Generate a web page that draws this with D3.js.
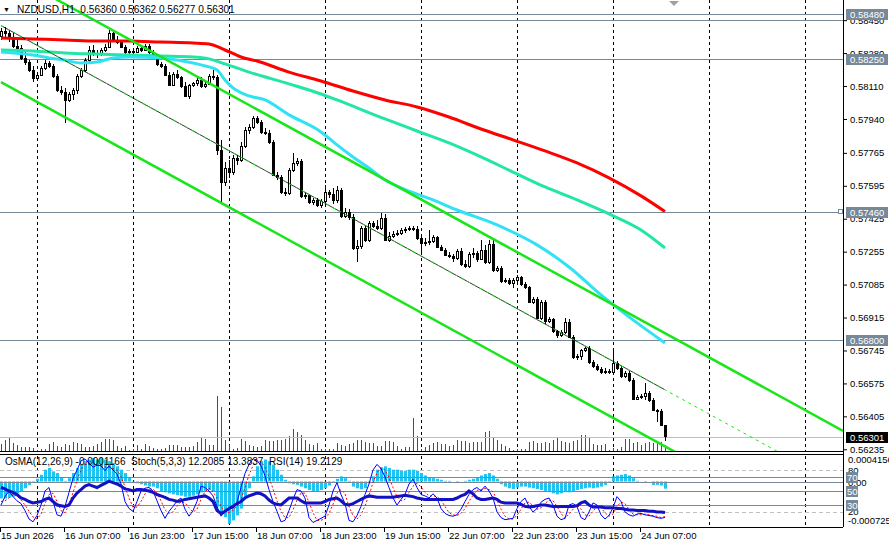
<!DOCTYPE html>
<html>
<head>
<meta charset="utf-8">
<script src="https://cdn.jsdelivr.net/npm/d3@7"></script>
<style>
  html, body { margin: 0; padding: 0; background: #fff; }
  svg { display: block; font-family: "Liberation Sans", Arial, sans-serif; }
</style>
</head>
<body>
<svg id="chart" width="889" height="548"></svg>
<script>
// prices are in points (1 point = 0.00001)
const symbol = "NZDUSD";
const period = "H1";

const opens = [
  58368,58394,58384,58358,58317,58306,58255,58234,58193,58152,
  58167,58203,58229,58213,58162,58090,58079,58038,58069,58090,
  58162,58193,58244,58296,58275,58281,58296,58311,58384,58348,
  58337,58311,58286,58291,58286,58306,58296,58317,58286,58265,
  58224,58213,58167,58115,58172,58157,58110,58059,58115,58126,
  58141,58110,58121,58162,58157,57780,57615,57687,57666,57739,
  57728,57801,57883,57899,57945,57924,57873,57868,57821,57651,
  57641,57563,57558,57677,57713,57723,57543,57548,57512,57522,
  57496,57517,57563,57553,57522,57574,57439,57460,57434,57274,
  57285,57377,57316,57403,57388,57377,57429,57316,57336,57347,
  57352,57367,57372,57377,57372,57326,57300,57305,57310,57331,
  57279,57264,57238,57233,57223,57259,57192,57181,57243,57249,
  57218,57264,57202,57295,57161,57171,57104,57109,57094,57109,
  57125,57089,57073,56996,57011,56913,56996,56898,56908,56846,
  56825,56841,56893,56815,56712,56717,56748,56758,56686,56665,
  56650,56634,56640,56634,56681,56655,56614,56629,56593,56495,
  56505,56511,56526,56490,56438,56433,56360
];
const highs = [
  58410,58415,58399,58389,58348,58322,58296,58244,58213,58182,
  58213,58244,58239,58224,58172,58110,58100,58079,58100,58172,
  58203,58255,58317,58322,58296,58306,58327,58399,58399,58368,
  58348,58322,58301,58301,58317,58322,58327,58327,58296,58270,
  58234,58224,58182,58182,58193,58162,58131,58121,58131,58152,
  58157,58131,58172,58193,58167,57832,57718,57728,57754,57754,
  57821,57899,57914,57955,57955,57935,57894,57883,57832,57666,
  57651,57584,57687,57765,57739,57734,57558,57553,57532,57532,
  57527,57599,57574,57584,57594,57584,57481,57476,57450,57316,
  57388,57393,57414,57414,57419,57455,57450,57357,57362,57367,
  57377,57383,57388,57388,57388,57341,57326,57367,57341,57336,
  57290,57274,57254,57243,57269,57274,57212,57254,57274,57259,
  57316,57290,57316,57316,57181,57181,57120,57120,57120,57135,
  57130,57099,57078,57021,57021,57006,57006,56918,56913,56851,
  56851,56913,56908,56825,56727,56753,56769,56769,56696,56676,
  56660,56655,56650,56748,56691,56665,56640,56640,56604,56516,
  56521,56578,56536,56500,56444,56444,56362
];
const lows = [
  58348,58358,58337,58306,58286,58244,58219,58182,58131,58141,
  58162,58193,58203,58152,58079,58064,57919,58028,58038,58069,
  58152,58182,58234,58265,58255,58265,58286,58306,58337,58327,
  58306,58275,58275,58275,58281,58286,58291,58275,58255,58213,
  58203,58162,58110,58110,58146,58100,58053,58043,58105,58110,
  58100,58100,58115,58141,57754,57507,57594,57636,57651,57703,
  57718,57790,57863,57888,57914,57863,57857,57811,57646,57625,
  57553,57543,57548,57666,57697,57532,57527,57501,57496,57486,
  57481,57507,57532,57501,57507,57429,57429,57419,57264,57202,
  57269,57305,57305,57377,57367,57367,57310,57305,57326,57336,
  57341,57352,57362,57362,57316,57238,57285,57290,57300,57274,
  57259,57233,57223,57202,57212,57181,57171,57171,57223,57202,
  57212,57192,57192,57150,57150,57094,57094,57083,57068,57099,
  57078,57063,56991,56985,56908,56903,56882,56887,56836,56810,
  56815,56831,56810,56702,56696,56696,56738,56676,56655,56640,
  56624,56624,56624,56619,56645,56604,56604,56583,56490,56490,
  56495,56490,56480,56433,56376,56356,56277
];
const closes = [
  58394,58384,58358,58317,58306,58255,58234,58193,58152,58167,
  58203,58229,58213,58162,58090,58079,58038,58069,58090,58162,
  58193,58244,58296,58275,58281,58296,58311,58384,58348,58337,
  58311,58286,58291,58286,58306,58296,58317,58286,58265,58224,
  58213,58167,58115,58172,58157,58110,58059,58115,58126,58141,
  58110,58121,58162,58157,57780,57615,57687,57666,57739,57728,
  57801,57883,57899,57945,57924,57873,57868,57821,57651,57641,
  57563,57558,57677,57713,57723,57543,57548,57512,57522,57496,
  57517,57563,57553,57522,57574,57439,57460,57434,57274,57285,
  57377,57316,57403,57388,57377,57429,57316,57336,57347,57352,
  57367,57372,57377,57372,57326,57300,57305,57310,57331,57279,
  57264,57238,57233,57223,57259,57192,57181,57243,57249,57218,
  57264,57202,57295,57161,57171,57104,57109,57094,57109,57125,
  57089,57073,56996,57011,56913,56996,56898,56908,56846,56825,
  56841,56893,56815,56712,56717,56748,56758,56686,56665,56650,
  56634,56640,56634,56681,56655,56614,56629,56593,56495,56505,
  56511,56526,56490,56438,56433,56361,56301
];
// tick volumes
const volumes = [
  200,300,350,225,175,125,125,125,100,50,
  75,75,200,250,150,125,200,175,250,225,
  200,125,125,150,200,250,325,325,300,150,
  100,150,50,75,175,75,200,150,100,75,
  75,100,175,175,175,125,125,125,150,250,
  375,325,175,175,1400,1125,300,175,75,100,
  325,275,175,150,125,150,300,275,275,300,
  300,325,400,575,500,425,300,200,175,225,
  75,75,75,75,225,175,150,200,225,300,
  300,250,225,225,150,150,275,275,250,150,
  75,125,125,850,400,75,125,175,225,250,
  200,200,150,175,300,275,275,225,250,250,
  250,500,525,375,300,200,150,100,50,75,
  75,75,250,275,225,225,250,225,300,375,
  275,250,225,275,300,425,425,350,200,175,
  175,200,50,100,75,125,325,325,225,250,
  175,225,250,225,250,250,175
];

// moving averages: [bar, price]
const maSlow = [[0,58358],[8,58353],[16,58348],[24,58342],[32,58342],[40,58337],[48,58332],[52,58327],[56,58296],[60,58260],[64,58239],[72,58182],[80,58136],[88,58084],[96,58038],[104,58002],[112,57950],[120,57888],[128,57832],[136,57775],[144,57713],[152,57636],[160,57543],[166,57462]];
const maMid = [[0,58296],[8,58291],[16,58281],[24,58275],[32,58270],[40,58265],[48,58260],[52,58250],[56,58224],[62,58182],[72,58121],[80,58069],[84,58038],[96,57940],[104,57878],[112,57816],[120,57744],[128,57666],[136,57589],[144,57522],[152,57450],[160,57367],[166,57274]];
const maFast = [[0,58286],[8,58270],[12,58255],[16,58244],[20,58229],[24,58234],[28,58255],[32,58260],[40,58255],[44,58244],[50,58219],[54,58193],[56,58141],[58,58100],[62,58059],[66,58038],[72,57961],[80,57873],[84,57806],[88,57744],[92,57687],[96,57625],[100,57584],[108,57522],[114,57470],[124,57393],[134,57290],[142,57176],[150,57032],[158,56903],[166,56784]];

// regression channel: anchor bars, middle prices, deviation
const channelBars = [0, 166];
const channelMid = [58422, 56542];
const channelDev = 292;

// horizontal lines
const levelLines = [58480, 58450, 58250, 57460, 56800];
const levelBoxes = [58480, 58250, 57460, 56800];
const bidPrice = 56301;

const priceTicks = [58450, 58280, 58110, 57940, 57765, 57595, 57425, 57255, 57085, 56915, 56745, 56575, 56405, 56235];

const dayStartBars = [9, 33, 57, 81, 105, 129, 153, 177, 201];
const timeTickBars = [0, 16, 32, 48, 64, 80, 96, 112, 128, 144, 160];
const timeTickLabels = ["15 Jun 2026", "16 Jun 07:00", "16 Jun 23:00", "17 Jun 15:00", "18 Jun 07:00", "18 Jun 23:00", "19 Jun 15:00", "22 Jun 07:00", "22 Jun 23:00", "23 Jun 15:00", "24 Jun 07:00"];

// indicator window (OsMA in millionths)
const osma = [
  -276,-276,-264,-248,-193,-154,-110,-55,-11,44,
  110,193,220,165,138,66,11,55,138,220,
  276,331,358,386,358,386,358,331,303,248,
  193,138,66,11,-28,-44,-66,-83,-83,-110,
  -154,-176,-193,-209,-220,-231,-248,-248,-231,-209,
  -176,-154,-138,-165,-413,-523,-579,-689,-634,-551,
  -441,-276,-110,83,248,331,358,331,276,193,
  110,28,-28,-44,-55,-83,-110,-138,-154,-154,
  -138,-110,-66,-11,44,83,55,11,-83,-110,
  -127,-110,-28,83,193,231,248,220,193,193,
  176,176,193,193,176,138,99,66,55,44,
  28,11,11,0,-11,0,11,28,44,66,
  99,121,138,99,44,-44,-83,-110,-121,-99,
  -83,-83,-99,-110,-121,-138,-154,-165,-193,-209,
  -193,-154,-176,-165,-138,-121,-110,-99,-110,-99,
  -83,-55,-11,83,99,110,121,99,55,11,
  0,-11,0,-55,-55,-66,-116.6
].map((v) => v / 1e6);
const stochMain = [
  30,42,50,42,36,32,22,10,6,15,
  30,50,55,35,16,14,28,48,68,80,
  93,96,90,84,87,86,79,86,80,74,
  60,35,25,21,35,50,54,55,50,36,
  22,11,21,28,36,40,24,14,22,35,
  57,55,50,43,28,14,20,24,26,34,
  55,75,88,96,94,86,72,52,35,21,
  6,8,22,38,52,50,40,12,5,8,
  11,14,30,50,62,45,32,8,6,15,
  28,45,60,80,88,82,70,55,40,30,
  38,45,60,67,55,45,43,40,46,40,
  25,18,15,14,16,24,35,45,52,55,
  50,57,50,40,20,12,9,10,11,25,
  35,40,28,20,25,34,38,40,30,14,
  9,11,30,32,28,12,9,20,33,30,
  16,10,15,26,42,35,20,16,14,17,
  18,16,15,14,12,11,12.2085
];
const stochSignal = [
  35,36,40,45,43,37,30,21,13,10,
  17,32,45,47,35,22,19,30,48,65,
  80,90,93,90,87,86,84,84,82,80,
  71,56,40,27,27,35,46,53,53,47,
  36,23,18,20,28,35,33,26,20,24,
  38,49,54,49,40,28,21,19,23,28,
  38,55,73,86,93,92,84,70,53,36,
  21,12,12,23,37,47,47,34,19,8,
  8,11,18,31,47,52,46,28,15,10,
  16,29,44,62,76,83,80,69,55,42,
  36,38,48,57,61,56,48,43,43,42,
  37,28,19,16,15,18,25,35,44,51,
  52,54,52,49,37,24,14,10,10,15,
  24,33,34,29,24,26,32,37,36,28,
  18,11,17,24,30,24,16,14,21,28,
  26,19,14,17,28,34,32,24,17,16,
  16,17,16,15,14,12,13.3837
];
const rsi = [
  55,53,50,48,45,40,38,35,33,34,
  35,38,40,35,30,29,28,30,40,47,
  52,57,59,57,55,58,61,64,62,60,
  57,53,52,50,52,52,51,50,48,45,
  43,41,38,37,35,36,38,39,40,41,
  42,43,40,35,22,18,21,25,28,32,
  35,40,43,45,47,46,43,37,33,31,
  30,35,40,40,40,36,33,33,33,33,
  33,35,38,39,40,36,31,30,32,35,
  38,41,43,42,41,41,41,41,41,42,
  43,44,43,42,40,39,38,38,38,38,
  38,38,38,38,40,43,45,50,46,40,
  38,38,39,40,38,34,33,33,33,33,
  31,28,27,28,29,30,30,29,28,28,
  28,28,28,28,29,33,35,30,27,27,
  27,26,26,26,25,25,24,23,23,22,
  22,22,21,21,20,20,19.2129
];
const osmaRange = [-0.000725, 0.0004156];
const stochLevels = [80, 20];
const subLines = [70, 50, 30];

// layout
const plotRight = 843;
const mainBottom = 452;
const subTop = 455;
const subBottom = 527;
const lastBar = opens.length - 1;
const fmt = (v) => (v / 1e5).toFixed(5);
const axisFont = 9.5;

const svg = d3.select("#chart");

const x = d3.scaleLinear().domain([0, 166]).range([1, 665]);
const y = d3.scaleLinear().domain([56221, 58554]).range([mainBottom, 0]);
const yVol = d3.scaleLinear().domain([0, 1400]).range([mainBottom, mainBottom - 56]);
const ySub = d3.scaleLinear().domain([0, 100]).range([subBottom - 1, subTop + 1]);
const yOsma = d3.scaleLinear().domain(osmaRange).range([subBottom - 1, subTop + 1]);
const rightBar = x.invert(plotRight);

svg.append("defs").call((defs) => {
  defs.append("clipPath").attr("id", "clip-main")
    .append("rect").attr("x", 0).attr("y", 0).attr("width", plotRight).attr("height", mainBottom);
  defs.append("clipPath").attr("id", "clip-sub")
    .append("rect").attr("x", 0).attr("y", subTop).attr("width", plotRight).attr("height", subBottom - subTop);
});

const main = svg.append("g").attr("clip-path", "url(#clip-main)");
const sub = svg.append("g").attr("clip-path", "url(#clip-sub)");

// day separators
[main, sub].forEach((g) => {
  g.selectAll("line.day")
    .data(dayStartBars)
    .enter()
    .append("line")
    .attr("class", "day")
    .attr("x1", (d) => Math.round(x(d)) + 0.5)
    .attr("x2", (d) => Math.round(x(d)) + 0.5)
    .attr("y1", 0)
    .attr("y2", subBottom)
    .attr("stroke", "#000")
    .attr("stroke-dasharray", "3,3");
});

// volumes
main.selectAll("line.vol")
  .data(volumes)
  .enter()
  .append("line")
  .attr("x1", (d, i) => x(i) + 0.5)
  .attr("x2", (d, i) => x(i) + 0.5)
  .attr("y1", mainBottom)
  .attr("y2", (d) => yVol(d))
  .attr("stroke", "#0b7d0b");

// horizontal level lines
main.selectAll("line.level")
  .data(levelLines)
  .enter()
  .append("line")
  .attr("x1", 0)
  .attr("x2", plotRight)
  .attr("y1", (d) => Math.round(y(d)) + 0.5)
  .attr("y2", (d) => Math.round(y(d)) + 0.5)
  .attr("stroke", "#778899");

main.append("line")
  .attr("x1", 0)
  .attr("x2", plotRight)
  .attr("y1", Math.round(y(bidPrice)) + 0.5)
  .attr("y2", Math.round(y(bidPrice)) + 0.5)
  .attr("stroke", "#c0c0c0");

// candles
const bars = opens.map((o, i) => ({ i, o, h: highs[i], l: lows[i], c: closes[i] }));
const candle = main.selectAll("g.candle").data(bars).enter().append("g").attr("shape-rendering", "crispEdges");
candle.append("line")
  .attr("x1", (d) => x(d.i) + 0.5)
  .attr("x2", (d) => x(d.i) + 0.5)
  .attr("y1", (d) => y(d.h))
  .attr("y2", (d) => y(d.l))
  .attr("stroke", "#000");
candle.append("rect")
  .attr("x", (d) => x(d.i) - 0.5)
  .attr("y", (d) => Math.round(y(Math.max(d.o, d.c))) + 0.5)
  .attr("width", 2)
  .attr("height", (d) => Math.max(0.5, Math.round(Math.abs(y(d.o) - y(d.c)))))
  .attr("fill", (d) => (d.c >= d.o ? "#fff" : "#000"))
  .attr("stroke", "#000");

// moving averages
const maLine = d3.line().x((d) => x(d[0])).y((d) => y(d[1])).curve(d3.curveMonotoneX);
main.append("path").datum(maSlow).attr("d", maLine).attr("fill", "none").attr("stroke", "#ff0000").attr("stroke-width", 3);
main.append("path").datum(maMid).attr("d", maLine).attr("fill", "none").attr("stroke", "#22e6a6").attr("stroke-width", 3);
main.append("path").datum(maFast).attr("d", maLine).attr("fill", "none").attr("stroke", "#30e2f4").attr("stroke-width", 3);

// regression channel
const midAt = (b) => channelMid[0] + (channelMid[1] - channelMid[0]) * (b - channelBars[0]) / (channelBars[1] - channelBars[0]);
const straight = d3.line().x((d) => x(d[0])).y((d) => y(d[1]));
[channelDev, -channelDev].forEach((dev) => {
  main.append("path")
    .datum([[channelBars[0], midAt(channelBars[0]) + dev], [rightBar, midAt(rightBar) + dev]])
    .attr("d", straight)
    .attr("fill", "none")
    .attr("stroke", "#19e619")
    .attr("stroke-width", 2.5);
});
main.append("path")
  .datum([[channelBars[0], midAt(channelBars[0])], [channelBars[1], midAt(channelBars[1])]])
  .attr("d", straight)
  .attr("fill", "none")
  .attr("stroke", "#000")
  .attr("stroke-width", 0.8);
main.append("path")
  .datum([[channelBars[0], midAt(channelBars[0])], [rightBar, midAt(rightBar)]])
  .attr("d", straight)
  .attr("fill", "none")
  .attr("stroke", "#19e619")
  .attr("stroke-width", 1)
  .attr("stroke-dasharray", "3,4");

// indicator window
sub.selectAll("line.stochlvl")
  .data(stochLevels)
  .enter()
  .append("line")
  .attr("x1", 0)
  .attr("x2", plotRight)
  .attr("y1", (d) => Math.round(ySub(d)) + 0.5)
  .attr("y2", (d) => Math.round(ySub(d)) + 0.5)
  .attr("stroke", "#c0c0c0")
  .attr("stroke-dasharray", "4,3");

sub.selectAll("rect.osma")
  .data(osma)
  .enter()
  .append("rect")
  .attr("x", (d, i) => x(i) - 1)
  .attr("y", (d) => Math.min(yOsma(d), yOsma(0)))
  .attr("width", 3)
  .attr("height", (d) => Math.abs(yOsma(d) - yOsma(0)))
  .attr("fill", "#1ec4f2");

sub.selectAll("line.subline")
  .data(subLines.map((v) => ySub(v)).concat([yOsma(0)]))
  .enter()
  .append("line")
  .attr("x1", 0)
  .attr("x2", plotRight)
  .attr("y1", (d) => Math.round(d) + 0.5)
  .attr("y2", (d) => Math.round(d) + 0.5)
  .attr("stroke", "#778899");

const subLine = (yS) => d3.line().x((d, i) => x(i)).y((d) => yS(d));
sub.append("path").datum(stochSignal).attr("d", subLine(ySub)).attr("fill", "none").attr("stroke", "#ff0000").attr("stroke-dasharray", "2,2");
sub.append("path").datum(stochMain).attr("d", subLine(ySub)).attr("fill", "none").attr("stroke", "#0000ff");
sub.append("path").datum(rsi).attr("d", subLine(ySub)).attr("fill", "none").attr("stroke", "#1212c4").attr("stroke-width", 3);

// frames
const frame = svg.append("g").attr("stroke", "#000").attr("shape-rendering", "crispEdges");
frame.append("line").attr("x1", plotRight + 0.5).attr("x2", plotRight + 0.5).attr("y1", 0).attr("y2", subBottom);
frame.append("line").attr("x1", 0).attr("x2", plotRight).attr("y1", mainBottom - 0.5).attr("y2", mainBottom - 0.5);
frame.append("line").attr("x1", 0).attr("x2", plotRight).attr("y1", subTop - 0.5).attr("y2", subTop - 0.5);
frame.append("line").attr("x1", 0).attr("x2", plotRight).attr("y1", subBottom + 0.5).attr("y2", subBottom + 0.5);

// price axis
const priceAxis = svg.append("g")
  .attr("transform", `translate(${plotRight},0)`)
  .call(d3.axisRight(y).tickValues(priceTicks).tickFormat(fmt).tickSize(4).tickPadding(3));
priceAxis.select(".domain").remove();
priceAxis.selectAll("text").attr("font-size", axisFont).attr("fill", "#000").attr("font-family", "Liberation Sans, Arial, sans-serif");

const priceBox = (price, fill) => {
  const yy = Math.round(y(price));
  svg.append("rect").attr("x", plotRight + 3).attr("y", yy - 5).attr("width", 42).attr("height", 11).attr("fill", fill);
  svg.append("text")
    .attr("x", plotRight + 7)
    .attr("y", yy + 4)
    .attr("font-size", axisFont)
    .attr("fill", "#fff")
    .text(fmt(price));
};
levelBoxes.forEach((p) => priceBox(p, "#778899"));
priceBox(bidPrice, "#000");

// selected marker on level line
svg.append("rect")
  .attr("x", plotRight - 4.5)
  .attr("y", Math.round(y(57460)) - 2.5)
  .attr("width", 4)
  .attr("height", 4)
  .attr("fill", "#fff")
  .attr("stroke", "#778899");

// indicator axis labels
const subAxisLabels = [
  { y: yOsma(osmaRange[1]) + 7, t: osmaRange[1].toFixed(7) },
  { y: ySub(80) + 4, t: "80" },
  { y: yOsma(0) + 4, t: "0.00" },
  { y: ySub(20) + 3, t: "20" },
  { y: yOsma(osmaRange[0]) - 2, t: osmaRange[0].toFixed(6) },
];
svg.selectAll("text.sublabel")
  .data(subAxisLabels)
  .enter()
  .append("text")
  .attr("x", plotRight + 5)
  .attr("y", (d) => d.y)
  .attr("font-size", axisFont)
  .attr("fill", "#000")
  .text((d) => d.t);
subLines.forEach((v) => {
  const yy = Math.round(ySub(v));
  svg.append("rect").attr("x", plotRight + 3).attr("y", yy - 5).attr("width", 12).attr("height", 11).attr("fill", "#778899");
  svg.append("text").attr("x", plotRight + 4).attr("y", yy + 4).attr("font-size", axisFont).attr("fill", "#fff").text(v);
});

// time axis
const timeAxis = svg.append("g");
timeAxis.selectAll("line")
  .data(timeTickBars)
  .enter()
  .append("line")
  .attr("x1", (d) => x(d) - 0.5)
  .attr("x2", (d) => x(d) - 0.5)
  .attr("y1", subBottom + 1)
  .attr("y2", subBottom + 5)
  .attr("stroke", "#000");
timeAxis.selectAll("text")
  .data(timeTickBars)
  .enter()
  .append("text")
  .attr("x", (d) => x(d))
  .attr("y", 539)
  .attr("font-size", 9.6)
  .attr("fill", "#000")
  .text((d, i) => timeTickLabels[i]);

// chart shift marker
svg.append("path")
  .attr("d", d3.line()([[x(lastBar + 1), 1], [x(lastBar + 3.5), 1], [x(lastBar + 2.25), 6]]))
  .attr("fill", "#a0a0a0");

// header texts
svg.append("text").attr("x", 3).attr("y", 12).attr("font-size", 7).attr("fill", "#000").text("▼");
svg.append("text")
  .attr("x", 17)
  .attr("y", 13)
  .attr("font-size", 10.1)
  .attr("fill", "#000")
  .attr("xml:space", "preserve")
  .text(`${symbol},${period}  ${fmt(opens[lastBar])} ${fmt(highs[lastBar])} ${fmt(lows[lastBar])} ${fmt(closes[lastBar])}`);
svg.append("text")
  .attr("x", 5)
  .attr("y", subTop + 10)
  .attr("font-size", 10)
  .attr("fill", "#000")
  .attr("xml:space", "preserve")
  .text(`OsMA(12,26,9) ${osma[lastBar].toFixed(7)}  Stoch(5,3,3) ${stochMain[lastBar].toFixed(4)} ${stochSignal[lastBar].toFixed(4)}  RSI(14) ${rsi[lastBar].toFixed(4)}`);
</script>
</body>
</html>
